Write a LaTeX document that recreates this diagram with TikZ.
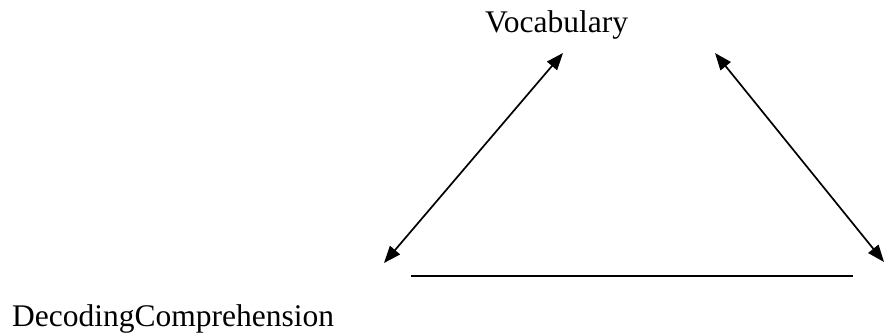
\documentclass[tikz,border=0pt]{standalone}
\usepackage{fontspec}
\setmainfont{Liberation Serif}
\usetikzlibrary{arrows.meta}
\begin{document}
\begin{tikzpicture}[x=1pt,y=-1pt,
  lbl/.style={inner sep=0pt,anchor=base west,font=\fontsize{31.5pt}{38pt}\selectfont},
  conn/.style={line width=1.7pt,{Triangle[length=17pt,width=13pt]}-{Triangle[length=17pt,width=13pt]}},
  plain/.style={line width=1.7pt}]
\useasboundingbox (0,0) rectangle (885,333);
\node[lbl] (voc) at (485,32) {Vocabulary};
\node[lbl] (dec) at (12,326) {DecodingComprehension};
\coordinate (lt) at (563,53);
\coordinate (lb) at (384,263);
\coordinate (rt) at (715,53);
\coordinate (rb) at (884,262);
\coordinate (hl) at (411,276);
\coordinate (hr) at (853,276);
\draw[conn] (lt) -- (lb);
\draw[conn] (rt) -- (rb);
\draw[plain] (hl) -- (hr);
\end{tikzpicture}
\end{document}
